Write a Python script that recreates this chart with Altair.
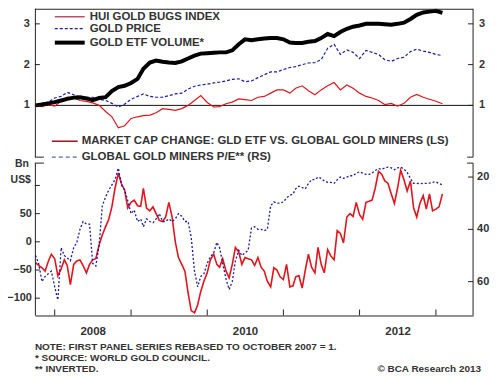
import altair as alt
import pandas as pd

# ---------------- data ----------------
MONTHS = pd.date_range("2007-10-01", "2013-02-01", freq="MS")
HALF = sorted(list(MONTHS) + list(MONTHS[:-1] + pd.Timedelta(days=15)))
MONTHS = [d.strftime("%Y-%m-%d") for d in MONTHS]
HALF = [d.strftime("%Y-%m-%d") for d in HALF]

HUI = [1.0, 0.97, 1.02, 0.98, 1.1, 1.2, 1.18, 1.12, 1.1, 1.06, 1.0, 0.85, 0.72, 0.45, 0.5,
       0.68, 0.72, 0.75, 0.76, 0.82, 0.92, 0.9, 0.88, 0.92, 1.0, 1.12, 1.24, 1.07, 0.96, 0.97,
       1.04, 1.08, 1.16, 1.14, 1.12, 1.2, 1.22, 1.3, 1.38, 1.38, 1.3, 1.42, 1.48, 1.36, 1.26,
       1.38, 1.48, 1.56, 1.38, 1.5, 1.42, 1.3, 1.22, 1.18, 1.12, 1.02, 1.05, 0.98, 1.05, 1.2,
       1.27, 1.2, 1.15, 1.1, 1.04]
GOLD = [1.0, 1.05, 1.08, 1.18, 1.22, 1.32, 1.26, 1.2, 1.2, 1.2, 1.15, 1.12, 1.05, 0.96, 1.03,
        1.15, 1.22, 1.28, 1.22, 1.2, 1.2, 1.24, 1.28, 1.3, 1.4, 1.47, 1.5, 1.52, 1.55, 1.57,
        1.6, 1.64, 1.65, 1.58, 1.6, 1.68, 1.75, 1.82, 1.82, 1.88, 1.93, 1.95, 2.0, 2.04, 2.05,
        2.12, 2.4, 2.5, 2.25, 2.36, 2.3, 2.15, 2.35, 2.3, 2.25, 2.12, 2.08, 2.15, 2.18, 2.32,
        2.38, 2.33, 2.3, 2.25, 2.22]
ETF = [1.0, 1.02, 1.05, 1.08, 1.12, 1.16, 1.19, 1.2, 1.17, 1.13, 1.18, 1.2, 1.35, 1.45, 1.48,
       1.55, 1.65, 1.9, 2.05, 2.1, 2.07, 2.05, 2.04, 2.08, 2.15, 2.22, 2.27, 2.28, 2.29, 2.3,
       2.3, 2.35, 2.5, 2.62, 2.6, 2.62, 2.64, 2.65, 2.65, 2.62, 2.54, 2.53, 2.53, 2.56, 2.58,
       2.65, 2.75, 2.7, 2.8, 2.88, 2.93, 2.96, 3.0, 3.0, 3.0, 2.99, 2.98, 3.0, 3.03, 3.12,
       3.22, 3.28, 3.3, 3.32, 3.27]

CAP = [-37, -42, -46, -52, -35, -22, -30, -60, -48, -32,
       -42, -76, -40, -34, -32, -42, -55, -40, -32, -30,
       -5, 12, 27, 40, 62, 95, 122, 103, 92, 60,
       70, 74, 64, 63, 95, 60, 55, 62, 50, 38,
       36, 44, 70, 45, 0, -28, -40, -52, -90, -122,
       -126, -112, -88, -70, -55, -32, -22, -40, -45, -30,
       -52, -64, -40, -10, -18, -40, -28, -30, -32, -42,
       -28, -45, -52, -70, -80, -46, -50, -62, -67, -40,
       -80, -78, -62, -60, -82, -50, -22, -45, -55, -10,
       -40, -55, -14, -25, -32, 20, 15, -2, 44, 50,
       45, 70, 48, 40, 70, 72, 74, 95, 125, 120,
       108, 104, 85, 68, 95, 127, 110, 90, 108, 60,
       44, 68, 82, 58, 85, 55, 58, 62, 85]
PE = [50, 53, 60, 58, 57, 56, 62, 67, 47, 50,
      51, 52, 47, 45, 40, 37, 38, 38, 53, 54,
      46, 31, 27.6, 25, 23, 21, 16.6, 23, 25, 29,
      34, 32.6, 37, 36, 39, 36, 37, 37.5, 36, 34,
      37, 37, 36, 37, 36, 34, 35, 37, 37, 43,
      56, 62, 58, 57, 53, 50.5, 49, 45, 47, 53,
      59, 63, 60, 52, 48, 50, 49, 48, 39.5, 39,
      40, 40, 40.5, 40, 31, 29.5, 30, 30, 29.5, 28,
      27, 26.5, 24.5, 23.5, 24, 24.5, 22.5, 21, 21, 20,
      20.5, 21.5, 22, 22, 22.4, 21, 20, 20.5, 20, 19.5,
      19.5, 18.5, 18, 18.5, 19, 19, 18.5, 17.5, 16.8, 17,
      16.5, 16.2, 16.5, 17.2, 16.5, 16.2, 17, 18.2, 20.5, 22.4,
      22.4, 22.5, 22.4, 22.4, 22.3, 22, 21.8, 22.5, 23]

TOP_TICKS = [1, 2, 3]
LEFT_TICKS = [-100, -50, 0, 50, 100]
LEFT_LABELS = [-100, -50, 0, 50]
RIGHT_TICKS = [20, 40, 60]
YEAR_TICKS = ["2008-01-01", "2009-01-01", "2010-01-01", "2011-01-01", "2012-01-01", "2013-01-01"]
YEAR_LABELS = [2008, 2010, 2012]

LEG_TOP = ["HUI GOLD BUGS INDEX", "GOLD PRICE", "GOLD ETF VOLUME*"]
LEG_BOT = ["MARKET CAP CHANGE: GLD ETF VS. GLOBAL GOLD MINERS (LS)", "GLOBAL GOLD MINERS P/E** (RS)"]
UNIT = ["Bn", "US$"]
NOTES = ["NOTE: FIRST PANEL SERIES REBASED TO OCTOBER 2007 = 1.",
         "*   SOURCE: WORLD GOLD COUNCIL.",
         "** INVERTED."]
CREDIT = "\u00a9 BCA Research 2013"

# ---------------- style / layout ----------------
FONT = "Liberation Sans"
INK = "#333333"
AX = "#222222"
RED = "#e3141c"
BLUE = "#1a1aa8"
W, H = 440, 308      # whole plot area (both panels)
T1 = 149             # bottom of upper panel
B0 = 155             # top of lower panel
LBL = 11             # axis label size

top_df = pd.DataFrame({"date": MONTHS, "HUI": HUI, "GOLD": GOLD, "ETF": ETF})
bot_df = pd.DataFrame({"date": HALF, "CAP": CAP, "PE": PE})
one = pd.DataFrame({"a": [0]})

xscale = alt.Scale(domain=[alt.DateTime(year=2007, month=9, date=28),
                           alt.DateTime(year=2013, month=6, date=28)])
ytop = alt.Scale(domain=[-0.27, 3.37], range=[T1, 0], nice=False, zero=False)
ycap = alt.Scale(domain=[-130.7, 139.6], range=[H, B0], nice=False, zero=False)
ype = alt.Scale(domain=[14.67, 72.95], range=[B0, H], nice=False, zero=False)

AX_X = alt.Axis(values=[alt.DateTime(year=y, month=7, date=1) for y in YEAR_LABELS],
                format="%Y", ticks=False, grid=False, domain=True, domainColor=AX,
                labelPadding=10, title=None, labelFont=FONT, labelFontSize=11.5,
                labelFontWeight="bold", labelColor=INK)
X = alt.X("date:T", scale=xscale, axis=AX_X)


def txt(s, x, y, align="left", size=11.5):
    return alt.Chart(one).mark_text(text=s, align=align, baseline="middle", font=FONT,
                                    fontSize=size, fontWeight="bold", color=INK).encode(
        x=alt.value(x), y=alt.value(y))


def seg(x1, x2, y, color=AX, width=1, dash=None):
    kw = dict(color=color, strokeWidth=width)
    if dash:
        kw["strokeDash"] = dash
    return alt.Chart(one).mark_rule(**kw).encode(x=alt.value(x1), x2=alt.value(x2), y=alt.value(y))


def vseg(x, y1, y2):
    return alt.Chart(one).mark_rule(color=AX, strokeWidth=1).encode(
        x=alt.value(x), y=alt.value(y1), y2=alt.value(y2))


def ticks(vals, scale, x1, x2):
    return alt.Chart(pd.DataFrame({"v": vals})).mark_rule(color=AX).encode(
        x=alt.value(x1), x2=alt.value(x2), y=alt.Y("v:Q", scale=scale, axis=None))


def labels(vals, scale, x, align):
    return alt.Chart(pd.DataFrame({"v": vals})).mark_text(
        align=align, baseline="middle", font=FONT, fontSize=LBL, fontWeight="bold",
        color=INK).encode(x=alt.value(x), y=alt.Y("v:Q", scale=scale, axis=None), text="v:Q")


# data series
tb = alt.Chart(top_df)
hui = tb.mark_line(color=RED, strokeWidth=1.2).encode(x=X, y=alt.Y("HUI:Q", scale=ytop, axis=None))
gold = tb.mark_line(color=BLUE, strokeWidth=1.2, strokeDash=[3, 2]).encode(
    x=X, y=alt.Y("GOLD:Q", scale=ytop, axis=None))
etf = tb.mark_line(color="#000000", strokeWidth=4).encode(x=X, y=alt.Y("ETF:Q", scale=ytop, axis=None))
unit_rule = alt.Chart(pd.DataFrame({"v": [1]})).mark_rule(color="#111", strokeWidth=1).encode(
    x=alt.value(0), x2=alt.value(W), y=alt.Y("v:Q", scale=ytop, axis=None))

bb = alt.Chart(bot_df)
cap = bb.mark_line(color=RED, strokeWidth=1.6).encode(x=X, y=alt.Y("CAP:Q", scale=ycap, axis=None))
pe = bb.mark_line(color=BLUE, strokeWidth=1.3, strokeDash=[2, 2]).encode(
    x=X, y=alt.Y("PE:Q", scale=ype, axis=None))

year_ticks = alt.Chart(pd.DataFrame({"date": YEAR_TICKS})).mark_rule(color=AX).encode(
    x=X, y=alt.value(H - 6), y2=alt.value(H))

layers = [
    unit_rule, hui, gold, etf, cap, pe,
    # frames
    seg(0, W, 0.5), vseg(0.5, 0, T1), vseg(W, 0, T1), vseg(0.5, B0, H), vseg(W, B0, H),
    seg(0, 9, T1), seg(W - 6, W, T1), seg(0, 9, B0), seg(W - 6, W, B0),
    # ticks and labels
    ticks(TOP_TICKS, ytop, 0, 5), ticks(TOP_TICKS, ytop, W - 5, W),
    labels(TOP_TICKS, ytop, -5, "right"), labels(TOP_TICKS, ytop, W + 6, "left"),
    ticks(LEFT_TICKS, ycap, 0, 5), labels(LEFT_LABELS, ycap, -3, "right"),
    ticks(RIGHT_TICKS, ype, W - 5, W), labels(RIGHT_TICKS, ype, W + 4, "left"),
    year_ticks,
    # legends
    seg(20, 50, 8, "#b8506a", 1.5), txt(LEG_TOP[0], 55, 8),
    seg(20, 50, 20, BLUE, 1.2, [3, 2]), txt(LEG_TOP[1], 55, 20),
    seg(20, 50, 34, "#000000", 4), txt(LEG_TOP[2], 55, 34),
    seg(17, 43, 133, "#a01020", 1.5), txt(LEG_BOT[0], 47, 133),
    seg(17, 43, 149, "#5a6aa0", 1.2, [4, 3]), txt(LEG_BOT[1], 47, 149),
    # unit and notes
    txt(UNIT[0], -6, B0 + 1, "right", 10.5), txt(UNIT[1], -4, B0 + 17, "right", 10.5),
    txt(NOTES[0], 0, H + 32, size=10), txt(NOTES[1], 0, H + 43, size=10),
    txt(NOTES[2], 0, H + 54, size=10), txt(CREDIT, W + 8, H + 54, "right", 10),
]

chart = alt.layer(*layers).resolve_scale(y="independent").properties(
    width=W, height=H,
    autosize=alt.AutoSizeParams(type="none"),
    padding={"left": 27, "top": 0, "right": 17, "bottom": 62},
).configure(background="white", view=alt.ViewConfig(stroke=None))

chart.save("out.html", embed_options={"renderer": "svg", "actions": False})
